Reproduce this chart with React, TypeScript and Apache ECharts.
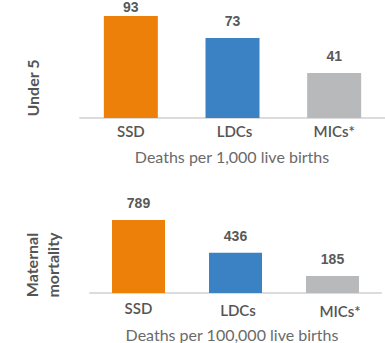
import React, { useEffect, useRef } from "react";
import * as echarts from "echarts";

const categories = ["SSD", "LDCs", "MICs*"];
const under5 = [93, 73, 41];
const maternal = [789, 436, 185];
const colors = ["#EC8008", "#3B82C4", "#B8B9BB"];
const under5Title = "Under 5";
const maternalTitle = "Maternal\nmortality";
const under5Unit = "Deaths per 1,000 live births";
const maternalUnit = "Deaths per 100,000 live births";

export default function App() {
  const ref = useRef<HTMLDivElement>(null);
  useEffect(() => {
    if (!ref.current) return;
    const chart = echarts.init(ref.current, null, { renderer: "svg" });
    const labelFont = "Lato, 'Open Sans', sans-serif";
    const mkData = (vals: number[], distances: number[]) =>
      vals.map((v, i) => ({
        value: v,
        itemStyle: { color: colors[i] },
        label: { distance: distances[i] },
      }));
    const valueLabel = {
      show: true,
      position: "top",
      color: "#595959",
      fontWeight: "bold",
      fontSize: 14,
      lineHeight: 14,
      fontFamily: "'Liberation Sans', Arial, sans-serif",
    };
    const axisLine = { show: true, lineStyle: { color: "#DCDCDC", width: 2 } };
    const catStyle = {
      color: "#555555",
      fontSize: 15,
      fontWeight: 600,
      fontFamily: labelFont,
    };
    chart.setOption({
      animation: false,
      grid: [
        { left: 80, width: 312, top: 16, height: 102 },
        { left: 90, width: 291, top: 220, height: 73 },
      ],
      xAxis: [
        {
          type: "category",
          gridIndex: 0,
          data: categories,
          axisLine,
          axisTick: { show: false },
          axisLabel: {
            margin: 5,
            ...catStyle,
            formatter: (v: string, i: number) => `{c${i}|${v}}`,
            rich: {
              c0: { ...catStyle },
              c1: { ...catStyle, padding: [0, 0, 0, 4] },
              c2: { ...catStyle },
            },
          },
        },
        {
          type: "category",
          gridIndex: 1,
          data: categories,
          axisLine,
          axisTick: { show: false },
          axisLabel: {
            margin: 7,
            ...catStyle,
            formatter: (v: string, i: number) => `{c${i}|${v}}`,
            rich: {
              c0: { ...catStyle },
              c1: { ...catStyle, padding: [2, 0, 0, 5] },
              c2: { ...catStyle, padding: [3, 0, 0, 15] },
            },
          },
        },
      ],
      yAxis: [
        { type: "value", gridIndex: 0, min: 0, max: 93, show: false, splitLine: { show: false } },
        { type: "value", gridIndex: 1, min: 0, max: 789, show: false, splitLine: { show: false } },
      ],
      series: [
        {
          type: "bar",
          xAxisIndex: 0,
          yAxisIndex: 0,
          barWidth: 54,
          data: mkData(under5, [2, 10, 10]),
          label: valueLabel,
        },
        {
          type: "bar",
          xAxisIndex: 1,
          yAxisIndex: 1,
          barWidth: 53,
          data: mkData(maternal, [10, 10, 10]),
          label: valueLabel,
        },
      ],
      graphic: [
        {
          type: "text",
          x: 32,
          y: 88,
          rotation: Math.PI / 2,
          style: {
            text: under5Title,
            fill: "#555555",
            font: `bold 16px ${labelFont}`,
            align: "center",
            verticalAlign: "middle",
          },
        },
        {
          type: "text",
          x: 42,
          y: 265,
          rotation: Math.PI / 2,
          style: {
            text: maternalTitle,
            fill: "#555555",
            font: `bold 16px ${labelFont}`,
            lineHeight: 21,
            align: "center",
            verticalAlign: "middle",
          },
        },
        {
          type: "text",
          x: 232,
          y: 156,
          style: {
            text: under5Unit,
            fill: "#6A6A6A",
            font: `16px ${labelFont}`,
            align: "center",
            verticalAlign: "middle",
          },
        },
        {
          type: "text",
          x: 232,
          y: 334,
          style: {
            text: maternalUnit,
            fill: "#6A6A6A",
            font: `16px ${labelFont}`,
            align: "center",
            verticalAlign: "middle",
          },
        },
      ],
    });
    return () => chart.dispose();
  }, []);
  return (
    <div
      ref={ref}
      style={{ position: "fixed", left: 0, top: 0, width: 385, height: 343, background: "#fff" }}
    />
  );
}
